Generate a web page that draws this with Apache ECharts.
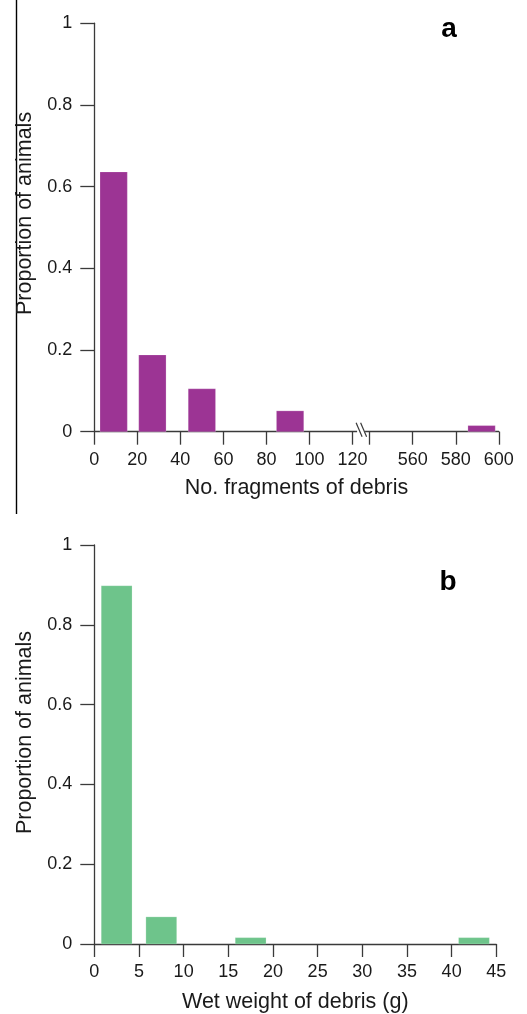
<!DOCTYPE html>
<html>
<head>
<meta charset="utf-8">
<script src="https://cdn.jsdelivr.net/npm/echarts@6/dist/echarts.min.js"></script>
<style>
html,body{margin:0;padding:0;background:#fff;}
#chart{width:527px;height:1014px;}
</style>
</head>
<body>
<div id="chart"></div>
<script>
// ---- data ----
const fragCenters = [9, 27, 50, 91, 592];
const fragProps = [0.636, 0.188, 0.105, 0.051, 0.015];
const fragBarWidth = 12.7;
const fragTickLabels = [0, 20, 40, 60, 80, 100, 120, 560, 580, 600];
const fragBreak = { from: 120, to: 540, gap: 8 };

const weightCenters = [2.5, 7.5, 17.5, 42.5];
const weightProps = [0.898, 0.068, 0.016, 0.016];
const weightBarWidth = 3.45;
const weightTickLabels = [0, 5, 10, 15, 20, 25, 30, 35, 40, 45];

const yTickLabels = [0, 0.2, 0.4, 0.6, 0.8, 1];

// ---- axis break transform ----
function toAxis(v) {
  return v <= fragBreak.from ? v : v - fragBreak.to + fragBreak.from + fragBreak.gap;
}
function fromAxis(t) {
  return t <= fragBreak.from ? t : t - fragBreak.from - fragBreak.gap + fragBreak.to;
}

const AXIS_COLOR = '#3a3a3a';
const TEXT_COLOR = '#1a1a1a';
const FONT = 'Liberation Sans, Arial, sans-serif';

function barSeries(xAxisIndex, centers, props, width, color, transform) {
  return {
    type: 'custom',
    xAxisIndex: xAxisIndex,
    yAxisIndex: xAxisIndex,
    data: centers.map((c, i) => [transform(c - width / 2), transform(c + width / 2), props[i]]),
    encode: { x: [0, 1], y: 2 },
    renderItem: function (params, api) {
      const p0 = api.coord([api.value(0), api.value(2)]);
      const p1 = api.coord([api.value(1), 0]);
      return {
        type: 'rect',
        shape: { x: p0[0], y: p0[1], width: p1[0] - p0[0], height: p1[1] - p0[1] },
        style: { fill: color, stroke: 'rgba(255,255,255,0.35)', lineWidth: 0.6 }
      };
    }
  };
}

function yAxisCfg(gridIndex) {
  return {
    gridIndex: gridIndex,
    type: 'value',
    min: 0, max: 1, interval: 0.2,
    splitLine: { show: false },
    axisLine: { show: true, lineStyle: { color: AXIS_COLOR, width: 1.3 } },
    axisTick: { show: true, length: 14, lineStyle: { color: AXIS_COLOR, width: 1.3 },
      customValues: yTickLabels },
    axisLabel: { color: TEXT_COLOR, fontSize: 18, fontFamily: FONT, margin: 22,
      customValues: yTickLabels,
      formatter: v => (v === 0 || v === 1) ? String(v) : v.toFixed(1) }
  };
}

const fragAxisTicks = [];
fragTickLabels.forEach(v => {
  fragAxisTicks.push(toAxis(v));
  if (v === fragBreak.from) fragAxisTicks.push(fragBreak.from + fragBreak.gap);
});

const chart = echarts.init(document.getElementById('chart'), null, { renderer: 'canvas' });

const option = {
  animation: false,
  backgroundColor: '#fff',
  grid: [
    { left: 94.3, top: 23.2, width: 404.5, height: 408.5 },
    { left: 94.3, top: 545, width: 402, height: 404 }
  ],
  xAxis: [
    {
      gridIndex: 0, type: 'value', min: 0, max: toAxis(fragTickLabels[fragTickLabels.length - 1]),
      splitLine: { show: false },
      axisLine: { show: true, onZero: false, lineStyle: { color: AXIS_COLOR, width: 1.3 } },
      axisTick: { show: true, length: 13, lineStyle: { color: AXIS_COLOR, width: 1.3 },
        customValues: fragAxisTicks },
      axisLabel: { color: TEXT_COLOR, fontSize: 18, fontFamily: FONT, margin: 19,
        customValues: fragTickLabels.map(toAxis),
        formatter: v => String(Math.round(fromAxis(v))) },
      name: 'No. fragments of debris', nameLocation: 'middle', nameGap: 45,
      nameTextStyle: { color: TEXT_COLOR, fontSize: 21.5, fontFamily: FONT }
    },
    {
      gridIndex: 1, type: 'value', min: 0, max: 45, interval: 5,
      splitLine: { show: false },
      axisLine: { show: true, onZero: false, lineStyle: { color: AXIS_COLOR, width: 1.3 } },
      axisTick: { show: true, length: 13, lineStyle: { color: AXIS_COLOR, width: 1.3 },
        customValues: weightTickLabels },
      axisLabel: { color: TEXT_COLOR, fontSize: 18, fontFamily: FONT, margin: 19,
        customValues: weightTickLabels },
      name: 'Wet weight of debris (g)', nameLocation: 'middle', nameGap: 47,
      nameTextStyle: { color: TEXT_COLOR, fontSize: 21.5, fontFamily: FONT }
    }
  ],
  yAxis: [yAxisCfg(0), yAxisCfg(1)],
  series: [
    barSeries(0, fragCenters, fragProps, fragBarWidth, '#9c3494', toAxis),
    barSeries(1, weightCenters, weightProps, weightBarWidth, '#6ec48b', v => v)
  ]
};
chart.setOption(option);

// break marks and annotations positioned through the axes
const breakMid = (fragBreak.from + fragBreak.from + fragBreak.gap) / 2;
const bp = chart.convertToPixel({ xAxisIndex: 0, yAxisIndex: 0 }, [breakMid, 0]);
const g0 = chart.convertToPixel({ xAxisIndex: 0, yAxisIndex: 0 }, [0, 1]);
const g0b = chart.convertToPixel({ xAxisIndex: 0, yAxisIndex: 0 }, [0, 0]);
const g1 = chart.convertToPixel({ xAxisIndex: 1, yAxisIndex: 1 }, [0, 1]);
const g1b = chart.convertToPixel({ xAxisIndex: 1, yAxisIndex: 1 }, [0, 0]);

chart.setOption({
  graphic: [
    { type: 'rect', shape: { x: bp[0] - 4, y: bp[1] - 2, width: 8, height: 4 }, style: { fill: '#fff' }, z: 100 },
    { type: 'line', shape: { x1: bp[0] - 5, y1: bp[1] - 9, x2: bp[0] + 1, y2: bp[1] + 5 },
      style: { stroke: AXIS_COLOR, lineWidth: 1.2 }, z: 101 },
    { type: 'line', shape: { x1: bp[0] - 0.5, y1: bp[1] - 9, x2: bp[0] + 5.5, y2: bp[1] + 5 },
      style: { stroke: AXIS_COLOR, lineWidth: 1.2 }, z: 101 },
    { type: 'line', shape: { x1: 16.5, y1: 0, x2: 16.5, y2: 514 }, style: { stroke: '#000', lineWidth: 1.4 } },
    { type: 'text', rotation: Math.PI / 2, x: 25, y: (g0[1] + g0b[1]) / 2 - 14,
      style: { text: 'Proportion of animals', fontSize: 21.5, fontFamily: FONT, fill: TEXT_COLOR,
        align: 'center', verticalAlign: 'middle' } },
    { type: 'text', rotation: Math.PI / 2, x: 25, y: (g1[1] + g1b[1]) / 2 - 12,
      style: { text: 'Proportion of animals', fontSize: 21.5, fontFamily: FONT, fill: TEXT_COLOR,
        align: 'center', verticalAlign: 'middle' } },
    { type: 'text', x: 449, y: 29,
      style: { text: 'a', fontSize: 28, fontWeight: 'bold', fontFamily: FONT, fill: '#000',
        align: 'center', verticalAlign: 'middle' } },
    { type: 'text', x: 448, y: 582,
      style: { text: 'b', fontSize: 28, fontWeight: 'bold', fontFamily: FONT, fill: '#000',
        align: 'center', verticalAlign: 'middle' } }
  ]
});
</script>
</body>
</html>
